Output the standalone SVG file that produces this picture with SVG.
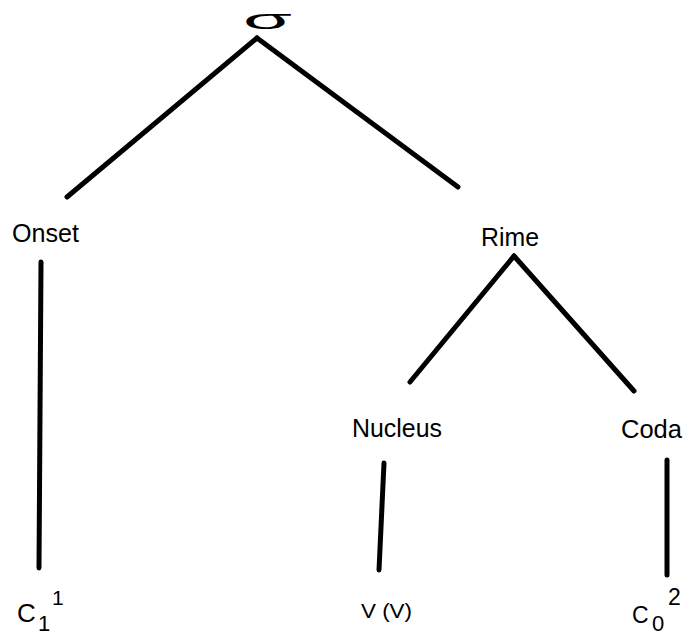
<svg xmlns="http://www.w3.org/2000/svg" width="684" height="638" viewBox="0 0 684 638">
<style>
text{font-family:"Liberation Sans",Arial,sans-serif;fill:#000}
.lbl{font-size:25px}
.e{stroke:#000;stroke-width:5;stroke-linecap:round;fill:none}
</style>
<rect width="684" height="638" fill="#fff"/>
<g id="connectors">
<line class="e" x1="257" y1="38" x2="67" y2="197"/>
<line class="e" x1="257" y1="38" x2="458" y2="187"/>
<line class="e" x1="514" y1="256" x2="410" y2="382"/>
<line class="e" x1="514" y1="256" x2="634" y2="391"/>
<line class="e" x1="41" y1="262" x2="39" y2="568"/>
<line class="e" x1="384" y1="463" x2="379" y2="570"/>
<line class="e" x1="667" y1="460" x2="667" y2="575"/>
</g>
<g id="sigma"><text x="243" y="29" font-size="28" textLength="49" lengthAdjust="spacingAndGlyphs">σ</text></g>
<g id="onset"><text class="lbl" x="12" y="242" textLength="67" lengthAdjust="spacingAndGlyphs">Onset</text></g>
<g id="rime"><text class="lbl" x="481" y="246" textLength="58" lengthAdjust="spacingAndGlyphs">Rime</text></g>
<g id="nucleus"><text class="lbl" x="352" y="437" textLength="90" lengthAdjust="spacingAndGlyphs">Nucleus</text></g>
<g id="coda"><text class="lbl" x="621" y="438" textLength="61" lengthAdjust="spacingAndGlyphs">Coda</text></g>
<g id="c1"><text x="17" y="622" font-size="26">C</text><text x="38" y="631" font-size="22">1</text><text x="52" y="605" font-size="21">1</text></g>
<g id="v"><text x="361" y="618" font-size="21" textLength="51" lengthAdjust="spacingAndGlyphs">V (V)</text></g>
<g id="c0"><text x="632" y="623" font-size="23">C</text><text x="652" y="631" font-size="22">0</text><text x="668" y="605" font-size="23">2</text></g>
</svg>
